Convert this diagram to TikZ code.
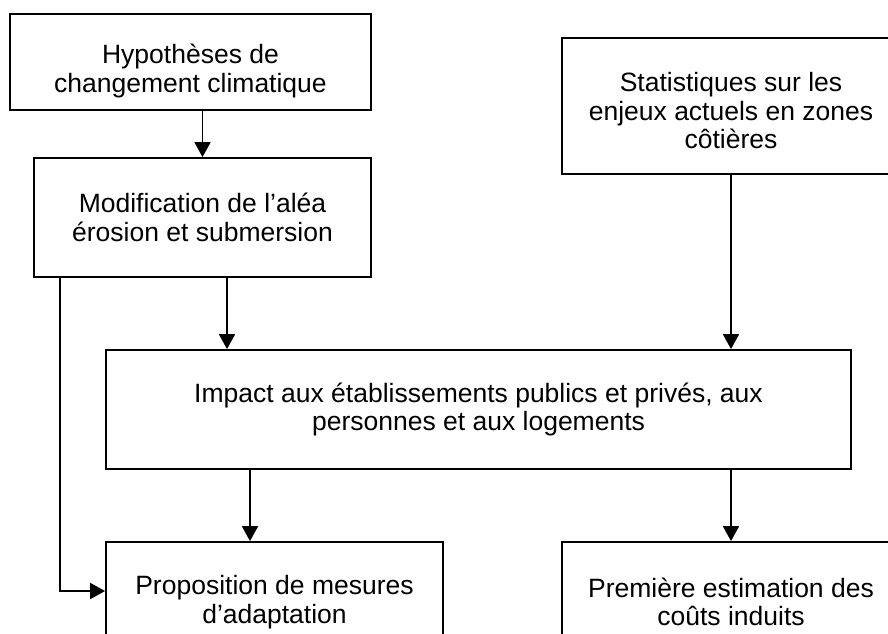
\documentclass[tikz,border=0pt]{standalone}
\usepackage{fontspec}
\setmainfont{Liberation Sans}
\usetikzlibrary{arrows.meta}
\tikzstyle{box} = [draw, line width=1.8pt, inner sep=0pt]
\tikzstyle{txt} = [align=center, inner sep=0pt, font=\fontsize{26.5}{28.5}\selectfont]
\tikzstyle{arr} = [line width=1.8pt, -{Triangle[width=16pt,length=15pt]}]

\begin{document}
\begin{tikzpicture}[x=1pt,y=-1pt]
				\useasboundingbox (0,0) rectangle (888,633);
				\clip (0,0) rectangle (888,633);
				\node[box, minimum width=361pt, minimum height=96pt, label={[txt,yshift=-9pt]center:{Hypothèses de\\changement climatique}}] (hyp) at (190.5,62) {};
				\node[box, minimum width=337pt, minimum height=119pt, label={[txt]center:{Modification de l’aléa\\érosion et submersion}}] (mod) at (202.5,217.5) {};
				\node[box, minimum width=338pt, minimum height=136pt, label={[txt,yshift=-5pt]center:{Statistiques sur les\\enjeux actuels en zones\\côtières}}] (stat) at (731,106) {};
				\node[box, minimum width=745pt, minimum height=119pt, label={[txt]center:{Impact aux établissements publics et privés, aux\\personnes et aux logements}}] (impact) at (478.5,409.5) {};
				\node[box, minimum width=337pt, minimum height=120pt, label={[txt]center:{Proposition de mesures\\d’adaptation}}] (prop) at (274.5,602) {};
				\node[box, minimum width=338pt, minimum height=120pt, label={[txt]center:{Première estimation des\\coûts induits}}] (cost) at (731,602) {};
				\draw[arr] (hyp.south -| mod.north) -- (mod.north);
				\draw[arr] ([xshift=24.5pt]mod.south) -- ([xshift=24.5pt]mod.south |- impact.north);
				\draw[arr] (stat.south) -- (stat.south |- impact.north);
				\draw[arr] ([xshift=-24.5pt]prop.north |- impact.south) -- ([xshift=-24.5pt]prop.north);
				\draw[arr] (cost.north |- impact.south) -- (cost.north);
				\draw[arr] ([xshift=27pt]mod.south west) |- ([yshift=11pt]prop.west);
			\end{tikzpicture}
\end{document}
